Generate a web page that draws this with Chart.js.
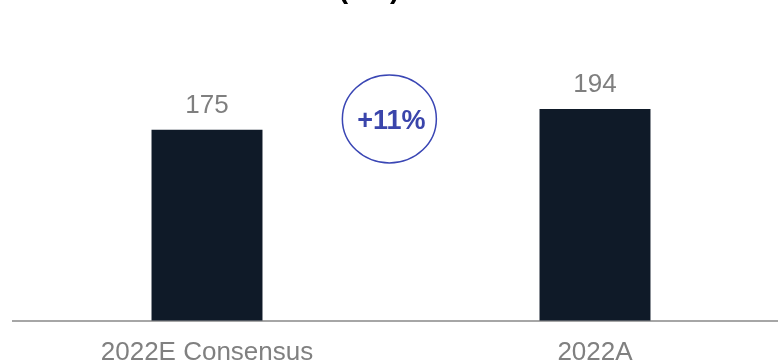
<!DOCTYPE html>
<html>
<head>
<meta charset="utf-8">
<script src="https://cdn.jsdelivr.net/npm/chart.js@4/dist/chart.umd.min.js"></script>
<style>
    html, body { margin: 0; padding: 0; background: #fff; overflow: hidden; }
    #wrap { position: relative; width: 778px; height: 364px; overflow: hidden; }
</style>
</head>
<body>
<div id="wrap"><canvas id="myChart"></canvas></div>
<script>
const categories = ['2022E Consensus', '2022A']
const values = [175, 194]
const titleText = '(€m)'
const changeLabel = '+11%'
const changeLevel = 185
const changePos = 0.47

const fontFamily = '"Liberation Sans", Arial, Helvetica, sans-serif'

// draws the value labels, the cut-off title and the change bubble
const extrasPlugin = {
    id: 'extras',
    afterDatasetsDraw: (chart) => {
        let ctx = chart.ctx
        let meta = chart.getDatasetMeta(0)
        ctx.save()
        ctx.fillStyle = '#7f7f7f'
        ctx.font = '26px ' + fontFamily
        ctx.textAlign = 'center'
        ctx.textBaseline = 'alphabetic'
        meta.data.forEach((bar, i) => {
            ctx.fillText(values[i], bar.x, bar.y - 17)
        })

        // title, mostly above the top edge
        ctx.fillStyle = '#000'
        ctx.font = 'bold 29px ' + fontFamily
        ctx.fillText(titleText, 369, -2)

        // change bubble
        let x = chart.scales.x.getPixelForValue(changePos)
        let y = chart.scales.y.getPixelForValue(changeLevel)
        ctx.strokeStyle = '#3a46b4'
        ctx.lineWidth = 1.5
        ctx.beginPath()
        ctx.ellipse(x, y, 47, 44, 0, 0, Math.PI * 2)
        ctx.stroke()
        ctx.fillStyle = '#3a45ab'
        ctx.font = 'bold 27px ' + fontFamily
        ctx.textBaseline = 'middle'
        ctx.fillText(changeLabel, x + 2, y + 3)
        ctx.restore()
    }
}

let cfg = {
    type: 'bar',
    data: {
        labels: categories,
        datasets: [
            {
                data: values,
                backgroundColor: '#0f1a28',
                barPercentage: 0.286,
                categoryPercentage: 1
            }
        ]
    },
    options: {
        responsive: false,
        animation: false,
        layout: { padding: { left: 13, right: 1, top: 48, bottom: 0 } },
        plugins: {
            legend: { display: false },
            tooltip: { enabled: false }
        },
        scales: {
            x: {
                grid: { display: true, drawOnChartArea: false, drawTicks: false },
                border: { display: true, color: '#a6a6a6', width: 2 },
                ticks: {
                    color: '#808080',
                    padding: 16,
                    font: { family: fontFamily, size: 26 }
                }
            },
            y: {
                display: false,
                min: 0,
                max: 250
            }
        }
    },
    plugins: [extrasPlugin]
}

let canvas = document.getElementById('myChart')
canvas.width = 790
canvas.height = 384
let myChart = new Chart(canvas, cfg)
</script>
</body>
</html>
